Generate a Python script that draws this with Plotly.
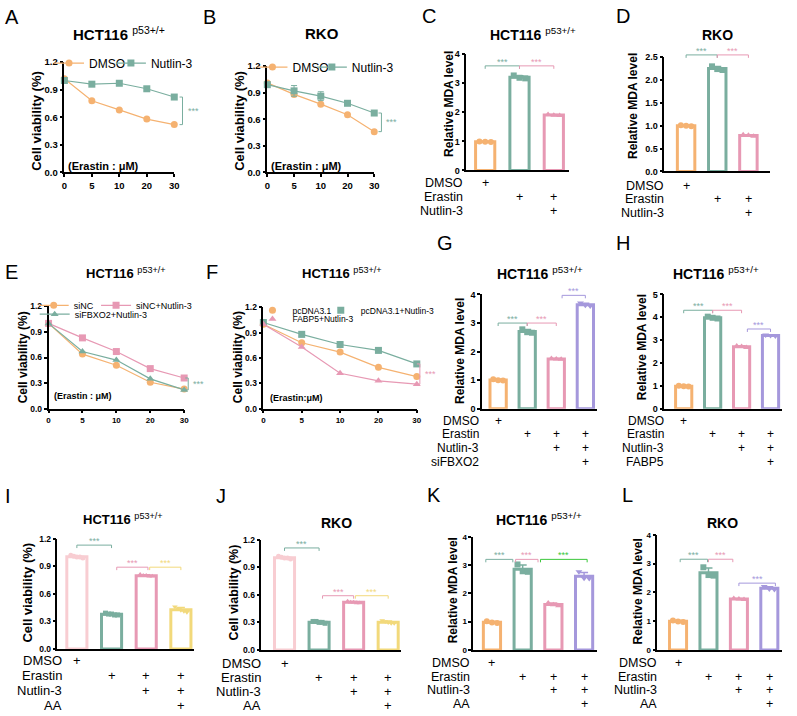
import numpy as np
import plotly.graph_objects as go

W, H = 797, 716
FONT = "Arial, Liberation Sans, Helvetica, sans-serif"

ORANGE = "#F5B271"
TEAL = "#7AAE9F"
PINK = "#E799B4"
PURPLE = "#A598DC"
LIGHTPINK = "#F8CDD2"
YELLOW = "#F2D97B"
GREEN = "#39C739"

# ---------------- data ----------------
dose_ticks = ["0", "5", "10", "20", "30"]

a_dmso = [1.02, 0.78, 0.68, 0.58, 0.52]
a_nutlin3 = [1.00, 0.96, 0.97, 0.91, 0.82]

b_dmso = [1.01, 0.88, 0.77, 0.65, 0.46]
b_nutlin3 = [0.99, 0.92, 0.86, 0.78, 0.67]
b_nutlin3_err = [0.01, 0.06, 0.05, 0.02, 0.02]

e_sinc = [1.00, 0.64, 0.51, 0.31, 0.23]
e_sinc_nutlin3 = [1.00, 0.83, 0.67, 0.47, 0.36]
e_sifbxo2_nutlin3 = [1.00, 0.67, 0.57, 0.35, 0.22]

f_pcdna = [1.00, 0.78, 0.67, 0.49, 0.38]
f_pcdna_nutlin3 = [1.02, 0.88, 0.76, 0.69, 0.53]
f_pcdna_nutlin3_err = [0.02, 0.03, 0.02, 0.02, 0.01]
f_fabp5_nutlin3 = [1.00, 0.73, 0.42, 0.33, 0.29]

c_reps = [[1.00, 0.99, 0.98], [3.27, 3.19, 3.17], [1.93, 1.90, 1.89]]
d_reps = [[1.01, 1.00, 0.99], [2.30, 2.24, 2.22], [0.80, 0.79, 0.77]]
g_reps = [[1.03, 1.00, 0.99], [2.78, 2.68, 2.66], [1.76, 1.74, 1.73], [3.70, 3.62, 3.60]]
h_reps = [[1.01, 0.98, 0.97], [4.03, 3.98, 3.95], [2.75, 2.72, 2.68], [3.23, 3.20, 3.18]]
i_reps = [[1.02, 1.01, 1.00, 1.00, 0.99], [0.39, 0.38, 0.38, 0.37, 0.37],
          [0.81, 0.80, 0.80, 0.79, 0.79], [0.46, 0.44, 0.42, 0.41, 0.40]]
j_reps = [[1.02, 1.01, 1.00, 1.00, 0.99], [0.31, 0.31, 0.30, 0.30, 0.29],
          [0.53, 0.52, 0.52, 0.51, 0.51], [0.32, 0.31, 0.30, 0.29, 0.29]]
k_reps = [[1.01, 0.97, 0.95], [3.02, 2.78, 2.76], [1.66, 1.60, 1.56], [2.76, 2.53, 2.52]]
l_reps = [[1.02, 0.99, 0.97], [2.87, 2.60, 2.58], [1.79, 1.77, 1.75], [2.20, 2.12, 2.10]]

rows3 = ["DMSO", "Erastin", "Nutlin-3"]
marks3 = [[1, 0, 0], [0, 1, 1], [0, 0, 1]]
g_rows = ["DMSO", "Erastin", "Nutlin-3", "siFBXO2"]
h_rows = ["DMSO", "Erastin", "Nutlin-3", "FABP5"]
aa_rows = ["DMSO", "Erastin", "Nutlin-3", "AA"]
marks4 = [[1, 0, 0, 0], [0, 1, 1, 1], [0, 0, 1, 1], [0, 0, 0, 1]]

# ---------------- helpers ----------------
fig = go.Figure()
L = dict(width=W, height=H, margin=dict(l=0, r=0, t=0, b=0),
         paper_bgcolor="white", plot_bgcolor="white", barmode="overlay",
         font=dict(family=FONT, color="black"), showlegend=True)
ann, shp = [], []
RANGES, AXPX = {}, {}


def fx(p):
    return p / W


def fy(p):
    return 1 - p / H


def names(n):
    s = "" if n == 1 else str(n)
    return "x" + s, "y" + s


def axes(n, xd, yd, xr, yr, yt, yfmt, yfs, xt=None, xfs=9):
    xn, yn = names(n)
    RANGES[n] = (xr, yr)
    AXPX[n] = (xd[1] - xd[0], yd[1] - yd[0])
    base = dict(showline=True, linecolor="black", linewidth=1.5, showgrid=False,
                zeroline=False, ticks="outside", ticklen=3, tickwidth=1.5,
                tickcolor="black", fixedrange=True)
    xa = dict(base, domain=[fx(xd[0]), fx(xd[1])], anchor=yn, range=xr)
    if xt is None:
        xa.update(ticks="", showticklabels=False)
    else:
        xa.update(tickmode="array", tickvals=list(range(len(xt))), ticktext=xt,
                  tickfont=dict(size=xfs, family=FONT, color="black", weight="bold"))
    ya = dict(base, domain=[fy(yd[1]), fy(yd[0])], anchor=xn, range=yr,
              tickmode="array", tickvals=yt, ticktext=[format(v, yfmt) for v in yt],
              tickfont=dict(size=yfs, family=FONT, color="black", weight="bold"))
    L["xaxis" + xn[1:]] = xa
    L["yaxis" + yn[1:]] = ya


def dx(n, v):
    r = RANGES[n][0]
    return (v - r[0]) / (r[1] - r[0])


def dy(n, v):
    r = RANGES[n][1]
    return (v - r[0]) / (r[1] - r[0])


def text(t, xp, yp, size, bold=False, xanchor="center", angle=0, color="black"):
    ann.append(dict(text=(f"<b>{t}</b>" if bold else t), x=fx(xp), y=fy(yp),
                    xref="paper", yref="paper", xanchor=xanchor, yanchor="middle",
                    showarrow=False, textangle=angle,
                    font=dict(size=size, family=FONT, color=color)))


def title(t, xp, yp, size=14):
    text(t, xp, yp, size)


def hbracket(n, x0, x1, y, color):
    xn, yn = names(n)
    drop = 3.0 / AXPX[n][1]
    X0, X1, Y = dx(n, x0), dx(n, x1), dy(n, y)
    shp.append(dict(type="path", xref=xn + " domain", yref=yn + " domain",
                    path=f"M{X0},{Y - drop} L{X0},{Y} L{X1},{Y} L{X1},{Y - drop}",
                    line=dict(color=color, width=1)))
    ann.append(dict(text="***", xref=xn + " domain", yref=yn + " domain",
                    x=(X0 + X1) / 2, y=Y, xanchor="center", yanchor="bottom",
                    yshift=-3, showarrow=False,
                    font=dict(size=9, color=color, family=FONT)))


def vbracket(n, x, y0, y1, color):
    xn, yn = names(n)
    d = 3.0 / AXPX[n][0]
    X, Y0, Y1 = dx(n, x), dy(n, y0), dy(n, y1)
    shp.append(dict(type="path", xref=xn + " domain", yref=yn + " domain",
                    path=f"M{X - d},{Y0} L{X},{Y0} L{X},{Y1} L{X - d},{Y1}",
                    line=dict(color=color, width=1)))
    ann.append(dict(text="***", xref=xn + " domain", yref=yn + " domain",
                    x=X, y=(Y0 + Y1) / 2, xanchor="left", yanchor="middle",
                    xshift=3, showarrow=False,
                    font=dict(size=9, color=color, family=FONT)))


def legend_at(key, marker_px, text_px, ypx, size):
    left = ((marker_px - 20) + (text_px - 40)) / 2
    L[key] = dict(x=fx(left), xanchor="left", y=fy(ypx), yanchor="middle",
                  orientation="h", bgcolor="rgba(0,0,0,0)", borderwidth=0,
                  font=dict(size=size, family=FONT, color="black"),
                  itemwidth=30, tracegroupgap=0)


def line(n, vals, name, color, symbol, legend, err=None, legend_line=True):
    xn, yn = names(n)
    kw = {}
    if err is not None:
        kw["error_y"] = dict(type="data", array=err, color=color, thickness=1, width=3)
    fig.add_trace(go.Scatter(x=list(range(len(vals))), y=vals, name=name,
                             mode="lines+markers", line=dict(color=color, width=1.2),
                             marker=dict(color=color, symbol=symbol, size=7),
                             xaxis=xn, yaxis=yn, legend=legend, cliponaxis=False,
                             showlegend=legend_line, **kw))
    if not legend_line:
        # marker-only legend entry (keeps crowded legends compact)
        fig.add_trace(go.Scatter(x=[None], y=[None], name=name, mode="markers",
                                 marker=dict(color=color, symbol=symbol, size=7),
                                 xaxis=xn, yaxis=yn, legend=legend, showlegend=True))


def bars(n, reps, colors, symbols, width, msize=6):
    xn, yn = names(n)
    k = len(reps[0])
    offs = list(np.linspace(-0.3, 0.3, k) * width)
    for i, (r, c, s) in enumerate(zip(reps, colors, symbols)):
        m = float(np.mean(r))
        sd = float(np.std(r, ddof=1))
        fig.add_trace(go.Bar(x=[i], y=[m], width=width,
                             marker=dict(color="white", line=dict(color=c, width=3)),
                             error_y=dict(type="data", array=[sd], arrayminus=[0],
                                          symmetric=False, color=c, thickness=1.5, width=4),
                             xaxis=xn, yaxis=yn, showlegend=False))
        fig.add_trace(go.Scatter(x=[i + o for o in offs], y=r, mode="markers",
                                 marker=dict(color=c, symbol=s, size=msize),
                                 xaxis=xn, yaxis=yn, showlegend=False, cliponaxis=False))


def rows(n, labels, marks, right_px, ys, size=12.5):
    xn, _ = names(n)
    for lab, mk, yp in zip(labels, marks, ys):
        text(lab, right_px, yp, size, xanchor="right")
        for i, v in enumerate(mk):
            if v:
                ann.append(dict(text="+", x=dx(n, i), xref=xn + " domain", y=fy(yp),
                                yref="paper", xanchor="center", yanchor="middle",
                                showarrow=False, font=dict(size=size, family=FONT, color="black")))


HCT = "<b>HCT116</b> <sup>p53+/+</sup>"
VIA = [0, 0.3, 0.6, 0.9, 1.2]

# ---------------- A ----------------
axes(1, (62, 173), (57, 169), [0, 4], [0, 1.2], VIA, ".1f", 9.5, xt=dose_ticks, xfs=9.5)
line(1, a_dmso, "DMSO", ORANGE, "circle", "legend")
line(1, a_nutlin3, "Nutlin-3", TEAL, "square", "legend2")
legend_at("legend", 70, 83, 58, 12)
legend_at("legend2", 133, 145, 58, 12)
vbracket(1, 4.3, 0.52, 0.82, TEAL)
text("(Erastin : μM)", 64, 163, 11, bold=True, xanchor="left")
title(HCT, 117, 28, 15)
text("Cell viability (%)", 34, 117, 13, bold=True, angle=-90)
text("A", 9, 11, 20)

# ---------------- B ----------------
axes(2, (267, 375), (61, 169), [0, 4], [0, 1.2], VIA, ".1f", 9.5, xt=dose_ticks, xfs=9.5)
line(2, b_dmso, "DMSO", ORANGE, "circle", "legend3")
line(2, b_nutlin3, "Nutlin-3", TEAL, "square", "legend4", err=b_nutlin3_err)
legend_at("legend3", 276, 288, 62, 12)
legend_at("legend4", 336, 348, 62, 12)
vbracket(2, 4.27, 0.46, 0.67, TEAL)
text("(Erastin : μM)", 269, 163, 11, bold=True, xanchor="left")
title("<b>RKO</b>", 322, 28, 15)
text("Cell viability (%)", 239, 117, 13, bold=True, angle=-90)
text("B", 209, 11, 20)

# ---------------- C ----------------
axes(3, (468, 572), (49, 167), [-0.55, 2.45], [0, 4], [0, 1, 2, 3, 4], ".0f", 9)
bars(3, c_reps, [ORANGE, TEAL, PINK], ["circle", "square", "triangle-up"], 0.56)
hbracket(3, 0, 1, 3.6, TEAL)
hbracket(3, 1, 2, 3.6, PINK)
rows(3, rows3, marks3, 467, [180, 194, 208])
title(HCT, 535, 28)
text("Relative MDA level", 451, 99, 12, bold=True, angle=-90)
text("C", 430, 10, 20)

# ---------------- D ----------------
axes(4, (668, 775), (52, 168), [-0.7, 2.7], [0, 2.5], [0, 0.5, 1, 1.5, 2, 2.5], ".1f", 9)
bars(4, d_reps, [ORANGE, TEAL, PINK], ["circle", "square", "triangle-up"], 0.56)
hbracket(4, 0, 1, 2.55, TEAL)
hbracket(4, 1, 2, 2.55, PINK)
rows(4, rows3, marks3, 670, [183, 196, 210])
title("<b>RKO</b>", 722, 29)
text("Relative MDA level", 637, 102, 12, bold=True, angle=-90)
text("D", 626, 10, 20)

# ---------------- E ----------------
axes(5, (46, 183), (305, 409), [0, 4], [0, 1.2], VIA, ".1f", 8.5, xt=dose_ticks, xfs=8)
line(5, e_sinc, "siNC", ORANGE, "circle", "legend5")
line(5, e_sinc_nutlin3, "siNC+Nutlin-3", PINK, "square", "legend6")
line(5, e_sifbxo2_nutlin3, "siFBXO2+Nutlin-3", TEAL, "triangle-up", "legend7")
legend_at("legend5", 55, 67, 304, 9)
legend_at("legend6", 118, 130, 304, 9)
legend_at("legend7", 57, 67, 313, 9)
vbracket(5, 4.12, 0.22, 0.36, TEAL)
text("(Erastin : μM)", 49, 396, 9, bold=True, xanchor="left")
title(HCT, 124, 271, 13)
text("Cell viability (%)", 20, 357, 12, bold=True, angle=-90)
text("E", 9, 270, 20)

# ---------------- F ----------------
axes(6, (263, 418), (306, 409), [0, 4], [0, 1.2], VIA, ".1f", 8.5, xt=dose_ticks, xfs=8)
line(6, f_pcdna, "pcDNA3.1", ORANGE, "circle", "legend8", legend_line=False)
line(6, f_pcdna_nutlin3, "pcDNA3.1+Nutlin-3", TEAL, "square", "legend9",
     err=f_pcdna_nutlin3_err, legend_line=False)
line(6, f_fabp5_nutlin3, "FABP5+Nutlin-3", PINK, "triangle-up", "legend10", legend_line=False)
legend_at("legend8", 276, 288, 309, 8.5)
legend_at("legend9", 346, 356, 309, 8.5)
legend_at("legend10", 276, 288, 318, 8.5)
vbracket(6, 4.08, 0.29, 0.53, PINK)
text("(Erastin:μM)", 268, 398, 9, bold=True, xanchor="left")
title(HCT, 342, 271, 13)
text("Cell viability (%)", 237, 357, 12, bold=True, angle=-90)
text("F", 211, 270, 20)

# ---------------- G ----------------
axes(7, (484, 600), (293, 409), [-0.55, 3.4], [0, 4], [0, 1, 2, 3, 4], ".0f", 9)
bars(7, g_reps, [ORANGE, TEAL, PINK, PURPLE], ["circle", "square", "triangle-up", "triangle-down"], 0.56)
hbracket(7, 0, 1, 3.0, TEAL)
hbracket(7, 1, 2, 3.0, PINK)
hbracket(7, 2.2, 3, 3.97, PURPLE)
rows(7, g_rows, marks4, 483, [421, 435, 449, 463], 12)
title(HCT, 542, 271)
text("Relative MDA level", 461, 350, 12, bold=True, angle=-90)
text("G", 446, 241, 20)

# ---------------- H ----------------
axes(8, (668, 787), (293, 409), [-0.67, 3.4], [0, 5], [0, 1, 2, 3, 4, 5], ".0f", 9)
bars(8, h_reps, [ORANGE, TEAL, PINK, PURPLE], ["circle", "square", "triangle-up", "triangle-down"], 0.56)
hbracket(8, 0, 1, 4.31, TEAL)
hbracket(8, 1, 2, 4.31, PINK)
hbracket(8, 2.2, 3, 3.49, PURPLE)
rows(8, h_rows, marks4, 670, [421, 435, 449, 463], 12)
title(HCT, 720, 271)
text("Relative MDA level", 645, 347, 12, bold=True, angle=-90)
text("H", 626, 241, 20)

# ---------------- I ----------------
axes(9, (55, 193), (541, 653), [-0.56, 3.38], [0, 1.2], VIA, ".1f", 8.5)
bars(9, i_reps, [LIGHTPINK, TEAL, PINK, YELLOW], ["circle", "square", "triangle-up", "triangle-down"], 0.58, 5)
hbracket(9, 0, 1, 1.13, TEAL)
hbracket(9, 1.15, 2.05, 0.89, PINK)
hbracket(9, 2.1, 3, 0.89, YELLOW)
rows(9, aa_rows, marks4, 62, [665, 680, 695, 710], 13)
title(HCT, 121, 521, 13)
text("Cell viability (%)", 25, 596, 13, bold=True, angle=-90)
text("I", 5, 498, 20)

# ---------------- J ----------------
axes(10, (261, 402), (542, 654), [-0.67, 3.37], [0, 1.2], VIA, ".1f", 8.5)
bars(10, j_reps, [LIGHTPINK, TEAL, PINK, YELLOW], ["circle", "square", "triangle-up", "triangle-down"], 0.58, 5)
hbracket(10, 0, 1, 1.11, TEAL)
hbracket(10, 1.1, 2.0, 0.59, PINK)
hbracket(10, 2.05, 3, 0.59, YELLOW)
rows(10, aa_rows, marks4, 263, [668, 682, 696, 710], 13)
title("<b>RKO</b>", 337, 525)
text("Cell viability (%)", 233, 596, 12.5, bold=True, angle=-90)
text("J", 220, 498, 20)

# ---------------- K ----------------
axes(11, (475, 600), (539, 654), [-0.61, 3.42], [0, 4], [0, 1, 2, 3, 4], ".0f", 8)
bars(11, k_reps, [ORANGE, TEAL, PINK, PURPLE], ["circle", "square", "triangle-up", "triangle-down"], 0.56)
hbracket(11, -0.2, 0.68, 3.2, TEAL)
hbracket(11, 0.77, 1.5, 3.2, PINK)
hbracket(11, 1.58, 3.1, 3.2, GREEN)
rows(11, aa_rows, marks4, 474, [667, 681, 695, 709], 12.5)
title(HCT, 541, 521)
text("Relative MDA level", 454, 593, 12, bold=True, angle=-90)
text("K", 435, 497, 20)

# ---------------- L ----------------
axes(12, (661, 787), (537, 654), [-0.68, 3.42], [0, 4], [0, 1, 2, 3, 4], ".0f", 8)
bars(12, l_reps, [ORANGE, TEAL, PINK, PURPLE], ["circle", "square", "triangle-up", "triangle-down"], 0.56)
hbracket(12, 0.07, 0.97, 3.15, TEAL)
hbracket(12, 1.0, 1.8, 3.15, PINK)
hbracket(12, 2.0, 3.2, 2.32, PURPLE)
rows(12, aa_rows, marks4, 663, [667, 681, 695, 709], 12.5)
title("<b>RKO</b>", 727, 525)
text("Relative MDA level", 641, 595, 12, bold=True, angle=-90)
text("L", 631, 497, 20)

L["annotations"] = ann
L["shapes"] = shp
fig.update_layout(**L)
fig.write_html("out.html")
